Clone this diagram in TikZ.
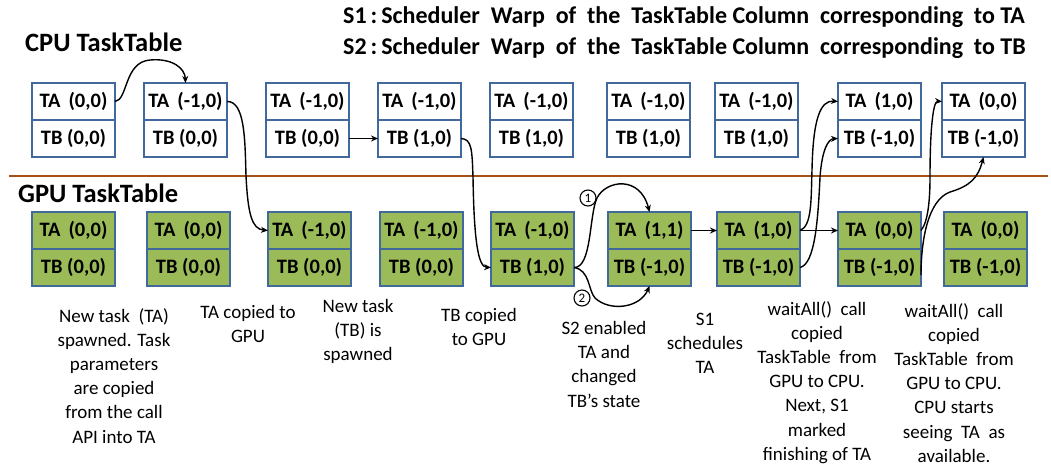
\documentclass[tikz,border=0pt]{standalone}
\usepackage{fontspec}
\setmainfont{Carlito}
\usetikzlibrary{arrows.meta}
\definecolor{boxblue}{RGB}{65,105,155}
\definecolor{gpugreen}{RGB}{155,187,89}
\definecolor{sepbrown}{RGB}{165,82,20}
\begin{document}
\begin{tikzpicture}[x=1pt,y=-1pt,
  cell/.style={draw=boxblue, line width=1.6pt, minimum width=83pt, minimum height=37pt,
    inner sep=0pt, outer sep=0pt, anchor=north west, font=\bfseries\fontsize{20.5}{24}\selectfont},
  cpu/.style={cell, fill=white},
  gpu/.style={cell, fill=gpugreen},
  heading/.style={anchor=west, inner sep=0pt, font=\bfseries\fontsize{26.5}{30}\selectfont},
  legend/.style={anchor=west, inner sep=0pt, font=\bfseries\fontsize{24}{28}\selectfont},
  caption/.style={anchor=north, align=center, inner sep=0pt, font=\fontsize{19}{24.2}\selectfont},
  arr/.style={line width=1.4pt, -{Stealth[length=7pt,width=6pt]}},
  circ/.style={draw, circle, line width=1.1pt, minimum size=16pt, inner sep=0pt, font=\fontsize{13}{13}\selectfont}
]
\path[use as bounding box] (0,0) rectangle (1051,469);

% headings
\node[heading] (cpuh) at (25,42) {CPU TaskTable};
\node[heading] (gpuh) at (18,193) {GPU TaskTable};
\node[legend] (s1) at (343,17) {S1\,:\,Scheduler\ \ Warp\ \ of\ \ the\ \ TaskTable\ Column\ \ corresponding\ \ to\ TA};
\node[legend] (s2) at (343,48) {S2\,:\,Scheduler\ \ Warp\ \ of\ \ the\ \ TaskTable\ Column\ \ corresponding\ \ to\ TB};

% separator
\coordinate (sepL) at (9,176);
\coordinate (sepR) at (1048,176);
\draw[sepbrown, line width=2pt] (sepL) -- (sepR);

% CPU TaskTable
\node[cpu] (cA1) at (32,83) {TA\ \,(0,0)};   \node[cpu] (cB1) at (32,120) {TB (0,0)};
\node[cpu] (cA2) at (144,83) {TA\ \,(-1,0)}; \node[cpu] (cB2) at (144,120) {TB (0,0)};
\node[cpu] (cA3) at (266,83) {TA\ \,(-1,0)}; \node[cpu] (cB3) at (266,120) {TB (0,0)};
\node[cpu] (cA4) at (378,83) {TA\ \,(-1,0)}; \node[cpu] (cB4) at (378,120) {TB (1,0)};
\node[cpu] (cA5) at (490,83) {TA\ \,(-1,0)}; \node[cpu] (cB5) at (490,120) {TB (1,0)};
\node[cpu] (cA6) at (607,83) {TA\ \,(-1,0)}; \node[cpu] (cB6) at (607,120) {TB (1,0)};
\node[cpu] (cA7) at (715,83) {TA\ \,(-1,0)}; \node[cpu] (cB7) at (715,120) {TB (1,0)};
\node[cpu] (cA8) at (838,83) {TA\ \,(1,0)};  \node[cpu] (cB8) at (838,120) {TB (-1,0)};
\node[cpu] (cA9) at (942,83) {TA\ \,(0,0)};  \node[cpu] (cB9) at (942,120) {TB (-1,0)};

% GPU TaskTable
\node[gpu] (gA1) at (32,212) {TA\ \,(0,0)};   \node[gpu] (gB1) at (32,249) {TB (0,0)};
\node[gpu] (gA2) at (147,212) {TA\ \,(0,0)};  \node[gpu] (gB2) at (147,249) {TB (0,0)};
\node[gpu] (gA3) at (268,212) {TA\ \,(-1,0)}; \node[gpu] (gB3) at (268,249) {TB (0,0)};
\node[gpu] (gA4) at (380,212) {TA\ \,(-1,0)}; \node[gpu] (gB4) at (380,249) {TB (0,0)};
\node[gpu] (gA5) at (491,212) {TA\ \,(-1,0)}; \node[gpu] (gB5) at (491,249) {TB (1,0)};
\node[gpu] (gA6) at (608,212) {TA\ \,(1,1)};  \node[gpu] (gB6) at (608,249) {TB (-1,0)};
\node[gpu] (gA7) at (717,212) {TA\ \,(1,0)};  \node[gpu] (gB7) at (717,249) {TB (-1,0)};
\node[gpu] (gA8) at (838,212) {TA\ \,(0,0)};  \node[gpu] (gB8) at (838,249) {TB (-1,0)};
\node[gpu] (gA9) at (944,212) {TA\ \,(0,0)};  \node[gpu] (gB9) at (944,249) {TB (-1,0)};

% circled labels
\node[circ] (c1) at (588,198) {1};
\node[circ] (c2) at (582,298) {2};

% connectors
\draw[arr] (cA1.east) .. controls (128,100) and (124,62) .. (150,60) .. controls (172,58) and (185,68) .. (cA2.north);
\draw[arr] (cA2.east) .. controls (245,101) and (245,140) .. (246,176) .. controls (248,215) and (252,229) .. (gA3.west);
\draw[arr] (cB3.east) -- (cB4.west);
\draw[arr] (cB4.east) .. controls (472,139) and (472,150) .. (473,177) .. controls (474,240) and (478,267) .. (gB5.west);
\draw[arr] (gB5.east) .. controls (592,268) and (589,215) .. (597,198) .. controls (606,180) and (640,175) .. (gA6.north);
\draw[arr] (gB5.east) .. controls (590,270) and (588,290) .. (595,298) .. controls (610,312) and (640,308) .. (gB6.south);
\draw[arr] (gA6.east) -- (gA7.west);
\draw[arr] (gA7.east) -- (gA8.west);
\draw[arr] (gA7.east) .. controls (812,226) and (811,200) .. (812,170) .. controls (813,120) and (820,100) .. (cA8.west);
\draw[arr] (gB7.east) .. controls (815,264) and (818,220) .. (820,177) .. controls (822,150) and (828,139) .. (cB8.west);
\draw[arr] (gA8.east) .. controls (928,222) and (930,200) .. (930,177) .. controls (930,130) and (933,101) .. (cA9.west);
\coordinate (g8out) at (921,275);
\draw[arr] (g8out) .. controls (921,240) and (928,200) .. (950,192) .. controls (970,186) and (978,178) .. (cB9.south);

% captions
\node[caption] (cap1) at (114,308) {New task\ \ (TA)\\spawned. Task\\parameters\\are copied\\from the call\\API into TA};
\node[caption] (cap2) at (248,305) {TA copied to\\GPU};
\node[caption] (cap3) at (358,299) {New task\\(TB) is\\spawned};
\node[caption] (cap4) at (479,308) {TB copied\\to GPU};
\node[caption] (cap5) at (604,321) {S2 enabled\\TA and\\changed\\TB’s state};
\node[caption] (cap6) at (705,313) {S1\\schedules\\TA};
\node[caption] (cap7) at (817,301) {waitAll()\ \ call\\copied\\TaskTable\ \ from\\GPU to CPU.\\Next, S1\\marked\\finishing of TA};
\node[caption] (cap8) at (954,303) {waitAll()\ \ call\\copied\\TaskTable\ \ from\\GPU to CPU.\\CPU starts\\seeing\ \ TA\ \ as\\available.};
\end{tikzpicture}
\end{document}
